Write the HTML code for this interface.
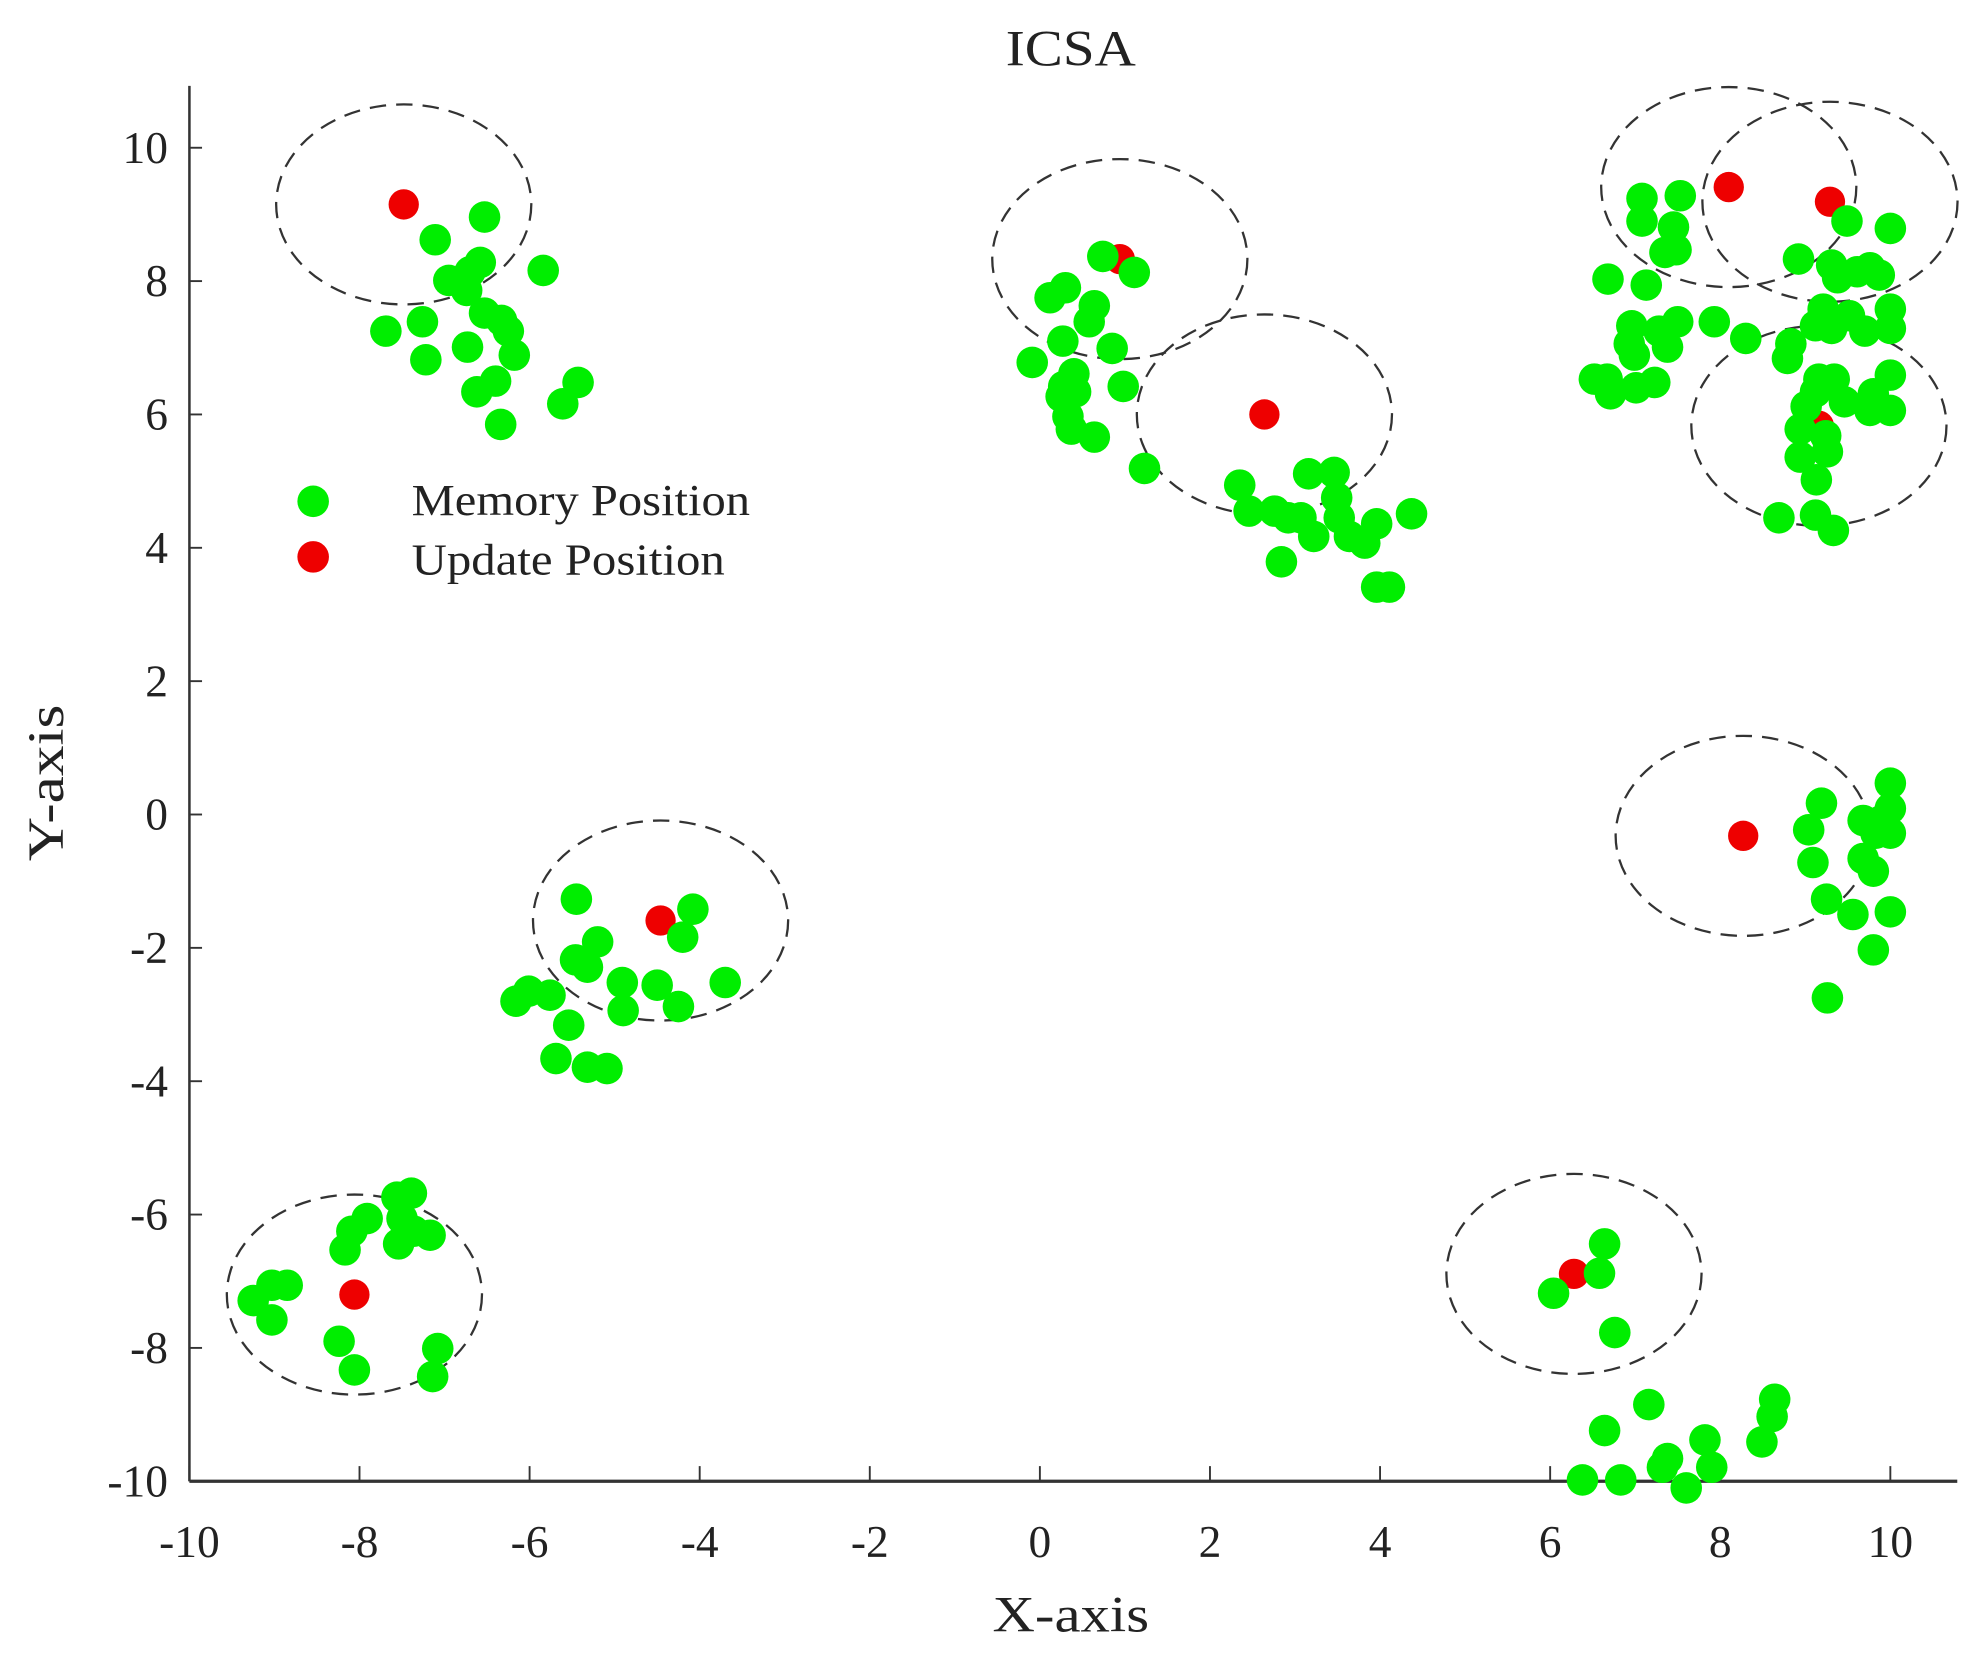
<!DOCTYPE html>
<html><head><meta charset="utf-8"><style>
html,body{margin:0;padding:0;background:#fff}
svg{display:block}
text{font-family:"Liberation Serif",serif;fill:#222}
</style></head><body>
<svg id="chart" width="1980" height="1653" viewBox="0 0 1568 1309" preserveAspectRatio="none" xmlns="http://www.w3.org/2000/svg">
<text x="848" y="52" font-size="40" text-anchor="middle" textLength="103" lengthAdjust="spacingAndGlyphs">ICSA</text>
<g id="axes"></g>
<g id="circles"></g>
<g id="green"></g>
<g id="red"></g>
<g>
<circle cx="248" cy="397" r="12.5" fill="#00ee00"/>
<text x="326" y="408" font-size="35" textLength="268" lengthAdjust="spacingAndGlyphs">Memory Position</text>
<circle cx="248" cy="441" r="12.5" fill="#ee0000"/>
<text x="326" y="455" font-size="35" textLength="248" lengthAdjust="spacingAndGlyphs">Update Position</text>
</g>
<text x="848" y="1292" font-size="40" text-anchor="middle" textLength="124" lengthAdjust="spacingAndGlyphs">X-axis</text>
<text transform="translate(50,620) rotate(-90)" font-size="40" text-anchor="middle" textLength="124" lengthAdjust="spacingAndGlyphs">Y-axis</text>
</svg>
<script>
const xTicks=[-10,-8,-6,-4,-2,0,2,4,6,8,10];
const yTicks=[-10,-8,-6,-4,-2,0,2,4,6,8,10];
const updateX=[-7.48,0.94,2.64,8.1,9.29,9.16,8.27,-4.46,-8.06,6.28];
const updateY=[9.15,8.33,6.0,9.41,9.19,5.83,-0.32,-1.59,-7.2,-6.89];
const circleRadius=1.5;
const memX=[-7.11,-6.53,-6.95,-6.70,-6.58,-6.74,-6.53,-6.33,-6.25,-7.69,-7.26,-6.73,-7.22,-6.18,-6.62,-6.40,-5.84,-6.34,-5.43,-5.61,
0.74,1.11,0.30,0.12,0.64,0.58,0.27,0.85,-0.09,0.40,0.28,0.42,0.98,0.25,0.33,0.37,0.64,1.23,
2.35,2.46,2.76,2.92,3.07,3.22,3.16,3.46,3.49,3.52,3.82,3.96,4.37,2.84,3.96,4.11,3.64,
7.08,7.53,7.45,7.08,7.48,7.35,6.68,7.13,6.96,6.93,7.28,7.38,7.50,7.93,8.30,6.99,6.67,6.52,6.71,7.01,7.23,8.92,9.49,10.0,9.31,9.38,9.61,9.76,9.87,10.0,9.70,9.21,9.12,9.31,8.83,8.79,9.16,9.34,9.12,9.46,9.80,10.0,10.0,9.76,9.01,8.94,9.24,9.26,8.94,9.13,8.69,9.12,9.33,10.0,9.52,
9.19,9.04,9.09,9.25,10.0,10.0,10.0,9.90,9.68,9.83,9.68,9.80,9.56,10.0,9.80,9.26,
-5.45,-4.08,-4.20,-5.20,-5.46,-5.32,-6.16,-6.01,-5.76,-4.91,-4.50,-4.25,-3.70,-4.90,-5.54,-5.69,-5.32,-5.09,
-7.39,-7.56,-7.91,-8.09,-8.17,-7.54,-7.36,-7.17,-7.50,-9.25,-9.03,-8.85,-9.03,-8.24,-8.06,-7.08,-7.14,
6.04,6.64,6.58,6.76,7.16,6.64,6.38,6.83,7.38,7.32,7.60,7.82,7.90,8.49,8.64,8.61];
const memY=[8.62,8.96,8.01,8.14,8.28,7.86,7.52,7.41,7.25,7.25,7.39,7.01,6.82,6.89,6.34,6.50,8.16,5.85,6.48,6.16,
8.37,8.13,7.90,7.75,7.63,7.39,7.10,6.99,6.78,6.61,6.42,6.34,6.42,6.27,5.97,5.78,5.66,5.19,
4.94,4.55,4.55,4.45,4.45,4.17,5.11,5.13,4.75,4.45,4.07,4.36,4.51,3.79,3.41,3.41,4.17,
9.24,9.28,8.81,8.90,8.47,8.43,8.03,7.94,7.33,7.06,7.25,7.01,7.39,7.39,7.14,6.89,6.53,6.53,6.31,6.40,6.48,8.33,8.90,8.79,8.24,8.05,8.14,8.20,8.09,7.58,7.25,7.58,7.33,7.29,7.06,6.84,6.53,6.53,6.34,6.19,6.31,6.59,6.06,6.06,6.12,5.78,5.68,5.44,5.36,5.02,4.45,4.49,4.26,7.29,7.48,
0.17,-0.23,-0.72,-1.27,0.47,0.09,-0.28,-0.09,-0.09,-0.28,-0.66,-0.85,-1.50,-1.46,-2.03,-2.75,
-1.27,-1.42,-1.84,-1.91,-2.18,-2.29,-2.80,-2.65,-2.71,-2.52,-2.56,-2.88,-2.52,-2.94,-3.16,-3.66,-3.79,-3.81,
-5.68,-5.74,-6.06,-6.25,-6.53,-6.44,-6.25,-6.31,-6.06,-7.29,-7.06,-7.06,-7.58,-7.90,-8.33,-8.01,-8.43,
-7.18,-6.44,-6.88,-7.77,-8.85,-9.24,-9.98,-9.98,-9.66,-9.79,-10.1,-9.38,-9.79,-9.41,-8.77,-9.03];

const X0=150,X1=1497,Y0=1173,Y1=117;
function sx(v){return X0+(v+10)/20*(X1-X0);}
function sy(v){return Y0-(v+10)/20*(Y0-Y1);}
const NS="http://www.w3.org/2000/svg";
function mk(parent,tag,attrs){const e=document.createElementNS(NS,tag);for(const k in attrs)e.setAttribute(k,attrs[k]);parent.appendChild(e);return e;}

const ax=document.getElementById('axes');
let l=mk(ax,'line',{x1:X0,y1:68,x2:X0,y2:Y0,stroke:'#333','stroke-width':2});


l=mk(ax,'line',{x1:X0,y1:Y0,x2:1550,y2:Y0,stroke:'#333','stroke-width':2.5});


xTicks.forEach(t=>{
  const tk=mk(ax,'line',{x1:sx(t),y1:Y0,x2:sx(t),y2:Y0-12,stroke:'#333','stroke-width':1.5});
  
  
  const tx=mk(ax,'text',{x:sx(t),y:1233,'font-size':36,'text-anchor':'middle'});
  tx.textContent=t;
  
  
});
yTicks.forEach(t=>{
  const tk=mk(ax,'line',{x1:X0,y1:sy(t),x2:X0+10,y2:sy(t),stroke:'#333','stroke-width':1.5});
  
  
  const tx=mk(ax,'text',{x:133,y:sy(t)+12,'font-size':36,'text-anchor':'end'});
  tx.textContent=t;
  
  
});
const cg=document.getElementById('circles');
const pxPerX=(X1-X0)/20, pxPerY=(Y0-Y1)/20;
updateX.forEach((x,i)=>{
  const e=mk(cg,'ellipse',{cx:sx(x),cy:sy(updateY[i]),rx:circleRadius*pxPerX,ry:circleRadius*pxPerY,fill:'none',stroke:'#333','stroke-width':1.8,'stroke-dasharray':'13 8'});
  
  
});
const rg=document.getElementById('red');
updateX.forEach((x,i)=>{
  const e=mk(rg,'circle',{cx:sx(x),cy:sy(updateY[i]),r:12,fill:'#ee0000'});
  
  
});
const gg=document.getElementById('green');
memX.forEach((x,i)=>{
  const e=mk(gg,'circle',{cx:sx(x),cy:sy(memY[i]),r:12.5,fill:'#00ee00'});
  
  
});
document.getElementById('chart').insertBefore(rg,gg);
</script>
</body></html>
